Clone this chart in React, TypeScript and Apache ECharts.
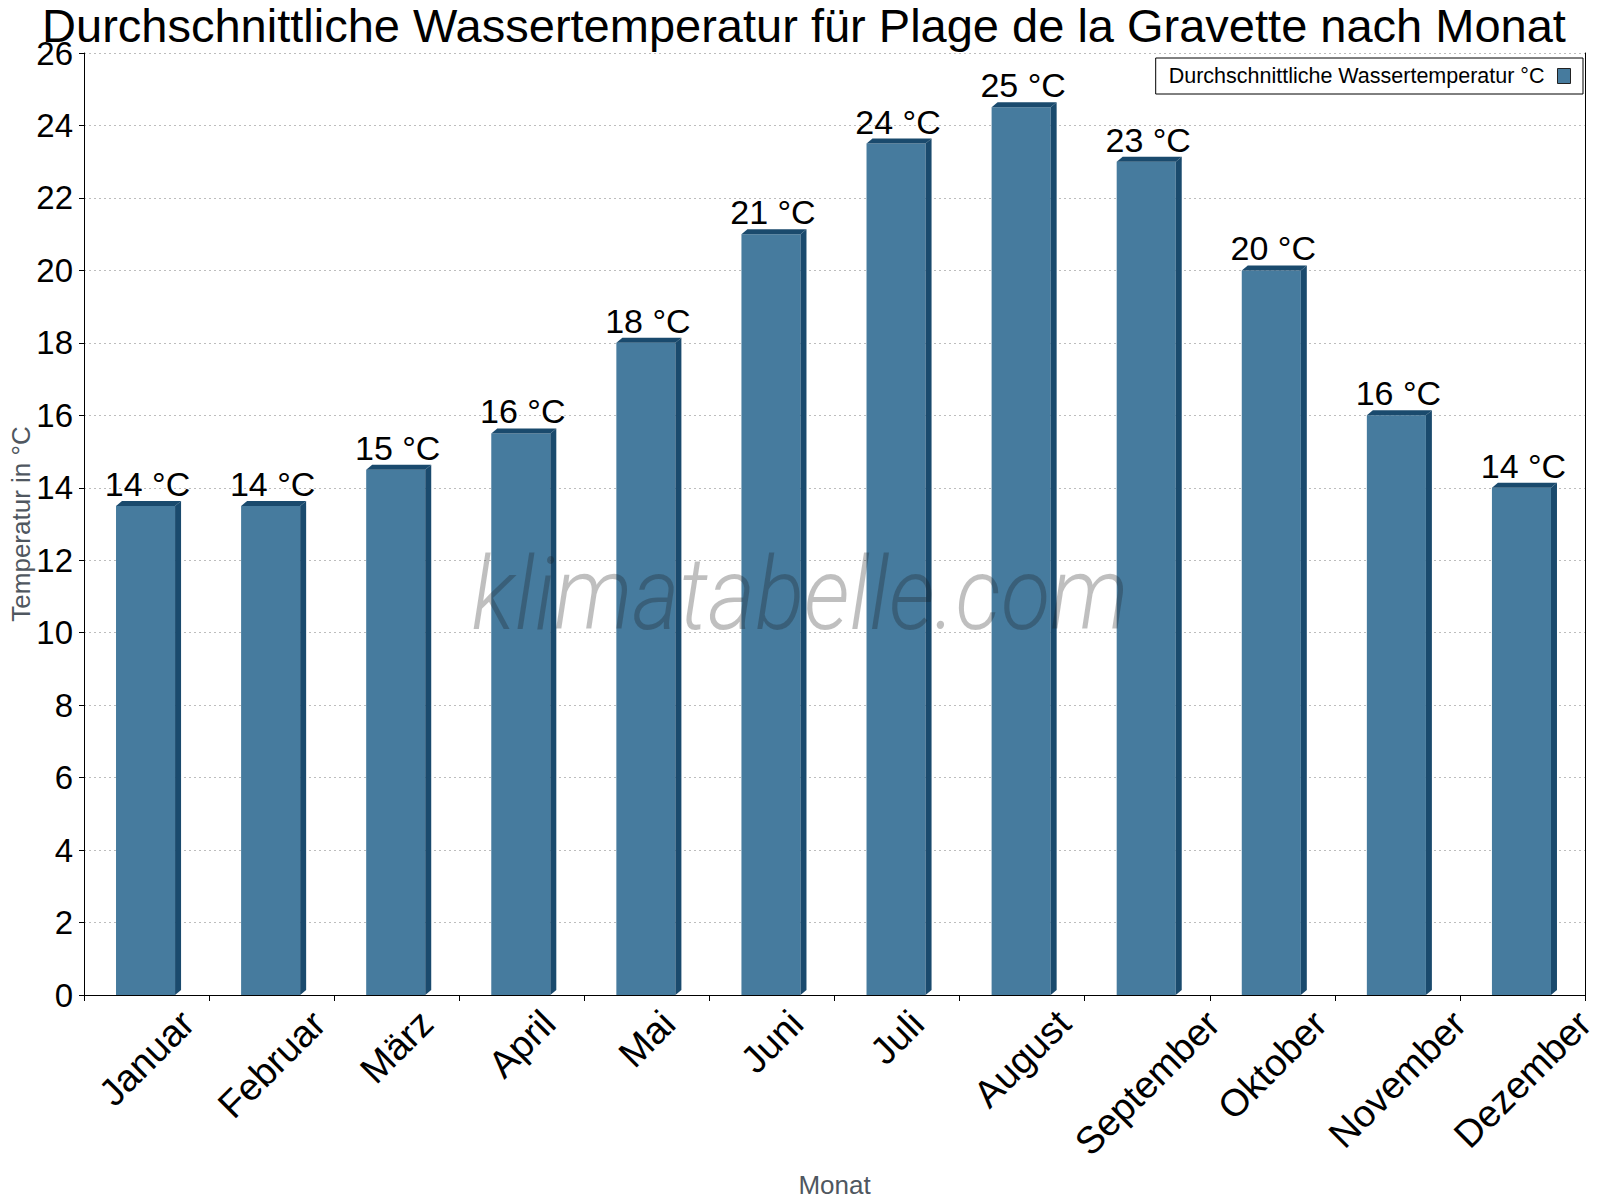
import React, { useEffect, useRef } from 'react'
import * as echarts from 'echarts'

// Monatsnamen (x-Achse)
const months = [
    'Januar', 'Februar', 'März', 'April', 'Mai', 'Juni',
    'Juli', 'August', 'September', 'Oktober', 'November', 'Dezember',
]

// Durchschnittliche Wassertemperatur in °C
const waterTemp = [13.5, 13.5, 14.5, 15.5, 18, 21, 23.5, 24.5, 23, 20, 16, 14]

// y-Achse
const yMin = 0
const yMax = 26
const yStep = 2

const seriesName = 'Durchschnittliche Wassertemperatur °C'
const titleText = 'Durchschnittliche Wassertemperatur für Plage de la Gravette nach Monat'

const FONT = '"Liberation Sans", Arial, sans-serif'
const FRONT = '#467b9e'
const DARK = '#1a4a6d'
const X_LABEL_SIZE = 38

const App: React.FC = () => {
    const chartRef = useRef<HTMLDivElement | null>(null)

    useEffect(() => {
        if (!chartRef.current) return
        const chart = echarts.init(chartRef.current, undefined, { renderer: 'svg' })

        // measure label widths so the rotated labels hang below the axis like the original
        const ctx = document.createElement('canvas').getContext('2d')!
        ctx.font = `${X_LABEL_SIZE}px "Liberation Sans"`
        const rich: Record<string, any> = {}
        months.forEach((m, i) => {
            const w = ctx.measureText(m).width
            const p = Math.round(w / 2)
            rich['m' + i] = {
                fontSize: X_LABEL_SIZE,
                fontFamily: FONT,
                color: '#000',
                padding: [p, p, 0, 0],
            }
        })

        const depthX = 6
        const depthY = 5

        const options: any = {
            animation: false,
            backgroundColor: '#fff',
            title: {
                text: titleText,
                left: 804,
                textAlign: 'center',
                top: 8,
                padding: 0,
                textStyle: {
                    fontSize: 47,
                    lineHeight: 34,
                    fontWeight: 'normal',
                    color: '#000',
                    fontFamily: FONT,
                },
            },
            legend: {
                data: [seriesName],
                right: 17,
                top: 58,
                align: 'right',
                icon: 'rect',
                itemWidth: 13,
                itemHeight: 15,
                padding: [7, 12, 7, 13],
                borderColor: '#000',
                borderWidth: 1,
                backgroundColor: '#fff',
                itemStyle: { color: FRONT, borderColor: '#222', borderWidth: 1 },
                textStyle: { fontSize: 21.5, color: '#000', fontFamily: FONT, padding: [0, 8, 0, 0] },
            },
            grid: { left: 84, right: 15, top: 53, bottom: 205, outerBoundsMode: 'none' },
            xAxis: {
                type: 'category',
                data: months,
                name: 'Monat',
                nameLocation: 'middle',
                nameGap: 177,
                nameMoveOverlap: false,
                nameTextStyle: { fontSize: 26, color: '#4f5760', fontFamily: FONT },
                axisLine: { lineStyle: { color: '#000', width: 1 } },
                axisTick: { show: true, length: 6, lineStyle: { color: '#000' } },
                axisLabel: {
                    interval: 0,
                    rotate: 45,
                    align: 'center',
                    verticalAlign: 'middle',
                    margin: 22,
                    fontSize: X_LABEL_SIZE,
                    color: '#000',
                    fontFamily: FONT,
                    formatter: (v: string, i: number) => `{m${i}|${v}}`,
                    rich,
                },
                splitLine: { show: false },
            },
            yAxis: [
                {
                    type: 'value',
                    min: yMin,
                    max: yMax,
                    interval: yStep,
                    name: 'Temperatur in °C',
                    nameLocation: 'middle',
                    nameGap: 50,
                    nameMoveOverlap: false,
                    nameTextStyle: { fontSize: 26, color: '#4f5760', fontFamily: FONT },
                    axisLine: { show: true, lineStyle: { color: '#000', width: 1 } },
                    axisTick: { show: true, length: 5, lineStyle: { color: '#000' } },
                    axisLabel: { fontSize: 33, lineHeight: 22, color: '#000', fontFamily: FONT, margin: 11 },
                    splitLine: { show: true, lineStyle: { color: '#bdbdbd', type: [2, 3], width: 1 } },
                },
                {
                    type: 'value',
                    position: 'right',
                    min: yMin,
                    max: yMax,
                    interval: yStep,
                    axisLine: { show: true, lineStyle: { color: '#000', width: 1 } },
                    axisTick: { show: false },
                    axisLabel: { show: false },
                    splitLine: { show: false },
                },
            ],
            series: [
                {
                    name: seriesName,
                    type: 'custom',
                    yAxisIndex: 0,
                    itemStyle: { color: FRONT },
                    encode: { x: 0, y: 1 },
                    data: waterTemp.map((v, i) => [i, v]),
                    renderItem: (params: any, api: any) => {
                        const idx = api.value(0)
                        const val = api.value(1)
                        const top = api.coord([idx, val])
                        const base = api.coord([idx, 0])
                        const band = api.size([1, 0])[0]
                        const fw = band * 0.472
                        const x0 = top[0] - fw / 2 - 1
                        const x1 = x0 + fw
                        const y0 = top[1]
                        const y1 = base[1]
                        return {
                            type: 'group',
                            children: [
                                {
                                    type: 'rect',
                                    shape: { x: x0, y: y0, width: fw, height: y1 - y0 },
                                    style: { fill: FRONT },
                                },
                                {
                                    type: 'polygon',
                                    shape: {
                                        points: [
                                            [x0, y0],
                                            [x0 + depthX, y0 - depthY],
                                            [x1 + depthX, y0 - depthY],
                                            [x1, y0],
                                        ],
                                    },
                                    style: { fill: DARK },
                                },
                                {
                                    type: 'polygon',
                                    shape: {
                                        points: [
                                            [x1, y0],
                                            [x1 + depthX, y0 - depthY],
                                            [x1 + depthX, y1 - depthY],
                                            [x1, y1],
                                        ],
                                    },
                                    style: { fill: DARK },
                                },
                                {
                                    type: 'text',
                                    x: top[0] + 1,
                                    y: y0 - 5,
                                    style: {
                                        text: `${Math.round(val)} °C`,
                                        textAlign: 'center',
                                        textVerticalAlign: 'bottom',
                                        fontSize: 34,
                                        fontFamily: FONT,
                                        fill: '#000',
                                    },
                                },
                            ],
                        }
                    },
                },
            ],
            graphic: [
                {
                    type: 'text',
                    x: 800,
                    y: 543,
                    scaleX: 0.89,
                    originX: 0,
                    z: 100,
                    silent: true,
                    style: {
                        text: 'klimatabelle.com',
                        textAlign: 'center',
                        textVerticalAlign: 'top',
                        fontSize: 102,
                        fontStyle: 'italic',
                        fontWeight: 300,
                        fontFamily: 'Roboto, "Open Sans", sans-serif',
                        fill: 'rgba(25,25,25,0.28)',
                    },
                },
            ],
        }

        chart.setOption(options)

        return () => {
            chart.dispose()
        }
    }, [])

    return (
        <div
            ref={chartRef}
            style={{ position: 'absolute', left: 0, top: 0, width: '1600px', height: '1200px' }}
        />
    )
}

export default App
